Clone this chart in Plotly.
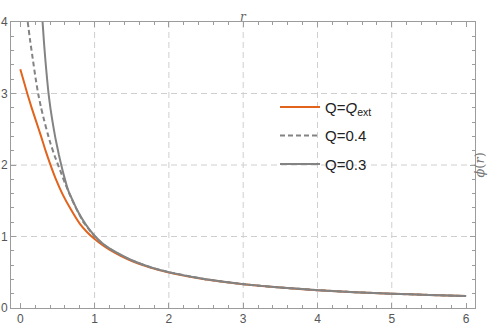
import plotly.graph_objects as go

# ---- data ----
r_ext = [0.0, 0.05, 0.1, 0.15, 0.21, 0.28, 0.34, 0.40, 0.48, 0.57, 0.68, 0.80, 0.90, 1.0, 1.1, 1.2, 1.35, 1.5, 1.75, 2.0, 2.5, 3.0, 3.5, 4.0, 4.5, 5.0, 5.5, 6.0]
phi_ext = [3.34, 3.16, 2.98, 2.81, 2.62, 2.40, 2.20, 2.02, 1.80, 1.59, 1.38, 1.18, 1.06, 0.965, 0.885, 0.815, 0.73, 0.658, 0.565, 0.495, 0.398, 0.332, 0.285, 0.25, 0.222, 0.2, 0.182, 0.167]

r_q04 = [0.10, 0.135, 0.17, 0.205, 0.24, 0.28, 0.32, 0.365, 0.41, 0.465, 0.52, 0.60, 0.66, 0.73, 0.85, 1.0, 1.1, 1.2, 1.35, 1.5, 1.75, 2.0, 2.5, 3.0, 3.5, 4.0, 4.5, 5.0, 5.5, 6.0]
phi_q04 = [4.0, 3.72, 3.47, 3.22, 3.0, 2.80, 2.63, 2.45, 2.29, 2.12, 1.97, 1.75, 1.60, 1.44, 1.20, 1.0, 0.905, 0.83, 0.74, 0.665, 0.57, 0.5, 0.4, 0.333, 0.286, 0.25, 0.222, 0.2, 0.182, 0.167]

r_q03 = [0.30, 0.32, 0.34, 0.36, 0.38, 0.405, 0.43, 0.47, 0.52, 0.57, 0.65, 0.77, 0.88, 1.0, 1.1, 1.2, 1.35, 1.5, 1.75, 2.0, 2.5, 3.0, 3.5, 4.0, 4.5, 5.0, 5.5, 6.0]
phi_q03 = [4.0, 3.70, 3.44, 3.21, 3.0, 2.80, 2.63, 2.39, 2.14, 1.92, 1.63, 1.36, 1.17, 1.01, 0.91, 0.835, 0.745, 0.668, 0.572, 0.502, 0.401, 0.334, 0.286, 0.25, 0.222, 0.2, 0.182, 0.167]

x_ticks = [0, 1, 2, 3, 4, 5, 6]
y_ticks = [0, 1, 2, 3, 4]
x_grid = [1, 2, 3, 4, 5]
y_grid = [1, 2, 3]

ORANGE = "#E2631C"
GRAY = "#838383"
FRAME = "#9c9c9c"
GRID = "#cfcfcf"
FONT = "Liberation Sans, Arial, sans-serif"

fig = go.Figure()
fig.add_trace(go.Scatter(x=r_ext, y=phi_ext, mode="lines", name="Q=<i>Q</i><sub>ext</sub>",
                         line=dict(color=ORANGE, width=2, shape="spline", smoothing=0.3),
                         legendgroup="a"))
fig.add_trace(go.Scatter(x=r_q04, y=phi_q04, mode="lines", name="Q=0.4",
                         line=dict(color=GRAY, width=2, dash="5px,3px", shape="spline", smoothing=0.3),
                         legendgroup="b"))
fig.add_trace(go.Scatter(x=r_q03, y=phi_q03, mode="lines", name="Q=0.3",
                         line=dict(color=GRAY, width=2, shape="spline", smoothing=0.3),
                         legendgroup="c"))

shapes = []
for gx in x_grid:
    shapes.append(dict(type="line", xref="x", yref="paper", x0=gx, x1=gx, y0=0, y1=1,
                       line=dict(color=GRID, width=1, dash="6px,4px"), layer="below"))
for gy in y_grid:
    shapes.append(dict(type="line", xref="paper", yref="y", x0=0, x1=1, y0=gy, y1=gy,
                       line=dict(color=GRID, width=1, dash="6px,4px"), layer="below"))

axis_common = dict(showgrid=False, zeroline=False, showline=True, linecolor=FRAME, linewidth=1,
                   mirror="ticks", ticks="inside", ticklen=5, tickcolor=FRAME, tickwidth=1,
                   automargin=False,
                   tickfont=dict(family=FONT, size=12, color="#555555"))

fig.update_layout(
    width=498, height=328,
    margin=dict(l=11, r=23, t=22, b=20),
    paper_bgcolor="white", plot_bgcolor="white",
    shapes=shapes,
    xaxis=dict(range=[-0.125, 6.12], tickvals=x_ticks,
               minor=dict(ticks="inside", dtick=0.2, tick0=0, ticklen=3, tickcolor=FRAME, showgrid=False),
               **axis_common),
    yaxis=dict(range=[0, 4], tickvals=y_ticks,
               minor=dict(ticks="inside", dtick=0.2, tick0=0, ticklen=3, tickcolor=FRAME, showgrid=False),
               **axis_common),
    legend=dict(x=0.569, y=0.76, xanchor="left", yanchor="top", bgcolor="rgba(0,0,0,0)",
                font=dict(family=FONT, size=15, color="#222222"), tracegroupgap=6,
                itemwidth=40),
    showlegend=True,
    annotations=[
        dict(text="<i>r</i>", xref="paper", yref="paper", x=0.5, y=1, yshift=14, showarrow=False,
             font=dict(family="DejaVu Serif, serif", size=12, color="#666666")),
        dict(text="<i>ϕ</i>(<i>r</i>)", xref="paper", yref="paper", x=1, xshift=13, y=0.5,
             textangle=-90, showarrow=False,
             font=dict(family="DejaVu Serif, serif", size=13, color="#777777")),
    ],
)

fig.write_html("out.html", config={"displayModeBar": False},
               post_script="document.body.style.margin='0';")
